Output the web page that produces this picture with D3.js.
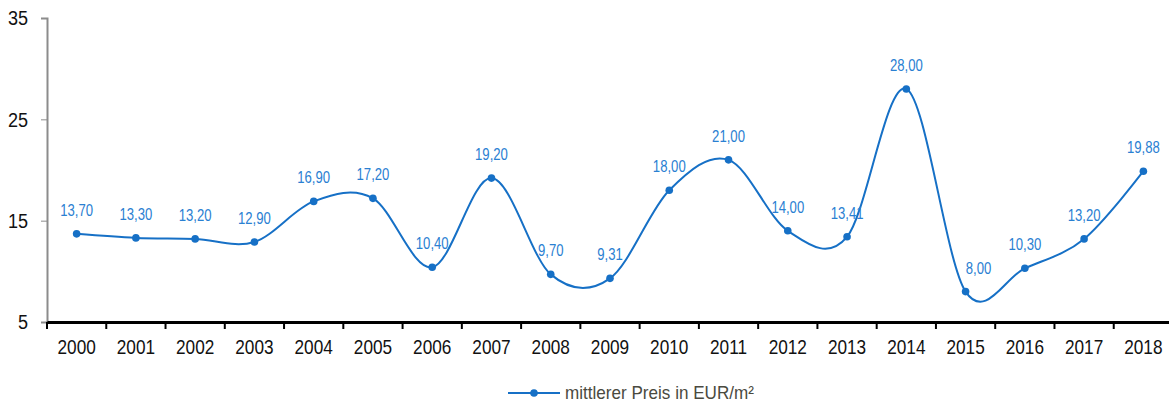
<!DOCTYPE html>
<html lang="de">
<head>
    <meta charset="UTF-8">
    <title>mittlerer Preis in EUR/m²</title>
    <style>
        body { margin: 0; background: #fff; }
        svg { display: block; font-family: "Liberation Sans", Arial, sans-serif; }
    </style>
</head>
<body>
    <div id="chart"></div>
    <script src="https://d3js.org/d3.v7.min.js"></script>
    <script>
        const years  = ["2000","2001","2002","2003","2004","2005","2006","2007","2008","2009",
                        "2010","2011","2012","2013","2014","2015","2016","2017","2018"];
        const prices = [13.70, 13.30, 13.20, 12.90, 16.90, 17.20, 10.40, 19.20, 9.70, 9.31,
                        18.00, 21.00, 14.00, 13.41, 28.00, 8.00, 10.30, 13.20, 19.88];
        const yTicks = [5, 15, 25, 35];
        const seriesName = "mittlerer Preis in EUR/m²";

        const width = 1169, height = 405;
        const blue = "#1670c6";
        const narrow = 0.82; // reference uses a condensed face

        const svg = d3.select("#chart").append("svg")
            .attr("width", width).attr("height", height);

        const x = d3.scaleBand().domain(years).range([47, 1173]);
        const y = d3.scaleLinear().domain([5, 35]).range([322, 18]);

        // y axis
        const yAxis = svg.append("g")
            .attr("transform", "translate(47,0)")
            .call(d3.axisLeft(y).tickValues(yTicks).tickSize(6));
        yAxis.select(".domain").attr("stroke", "#8c8c8c").attr("stroke-width", 2);
        yAxis.selectAll(".tick line").attr("stroke", "#8c8c8c");
        yAxis.selectAll(".tick text")
            .attr("x", null)
            .attr("transform", `translate(-19,0) scale(0.86,1)`)
            .attr("fill", "#111").style("font-size", "21px");

        // x axis
        const xAxis = svg.append("g")
            .attr("transform", "translate(0,322)")
            .call(d3.axisBottom(x).tickSizeOuter(0).tickSize(0).tickPadding(17));
        xAxis.select(".domain").attr("stroke", "#000").attr("stroke-width", 3);
        xAxis.selectAll(".tick text")
            .attr("transform", `scale(${narrow},1)`)
            .attr("fill", "#111").style("font-size", "21px");
        // category separators
        xAxis.selectAll(".sep")
            .data(years)
            .enter().append("line")
            .attr("class", "sep")
            .attr("x1", d => x(d)).attr("x2", d => x(d))
            .attr("y1", 0).attr("y2", 7)
            .attr("stroke", "#000").attr("stroke-width", 2);

        const cx = d => x(d) + x.bandwidth() / 2;
        const pts = years.map((d, i) => [cx(d), y(prices[i])]);

        const line = d3.line().curve(d3.curveCardinal.tension(0));
        svg.append("path")
            .attr("d", line(pts))
            .attr("fill", "none")
            .attr("stroke", blue)
            .attr("stroke-width", 2);

        svg.selectAll(".dot")
            .data(pts)
            .enter().append("circle")
            .attr("cx", d => d[0]).attr("cy", d => d[1])
            .attr("r", 3.8).attr("fill", blue);

        // value labels (the 2015 one sits a bit to the right in the original)
        svg.selectAll(".lbl")
            .data(prices)
            .enter().append("text")
            .attr("transform", (d, i) =>
                `translate(${cx(years[i]) + (years[i] === "2015" ? 13 : 0)},${y(d) - 18}) scale(0.82,1)`)
            .attr("text-anchor", "middle")
            .attr("fill", "#2a80d2")
            .style("font-size", "16px")
            .text(d => d3.format(".2f")(d).replace(".", ","));

        // legend
        const lg = svg.append("g").attr("transform", "translate(508,393)");
        lg.append("line").attr("x1", 0).attr("x2", 52).attr("y1", 0).attr("y2", 0)
            .attr("stroke", blue).attr("stroke-width", 2);
        lg.append("circle").attr("cx", 26).attr("cy", 0).attr("r", 3.8).attr("fill", blue);
        lg.append("text")
            .attr("transform", "translate(57,6) scale(0.95,1)")
            .attr("fill", "#4a4a40")
            .style("font-size", "18px")
            .text(seriesName);
    </script>
</body>
</html>
